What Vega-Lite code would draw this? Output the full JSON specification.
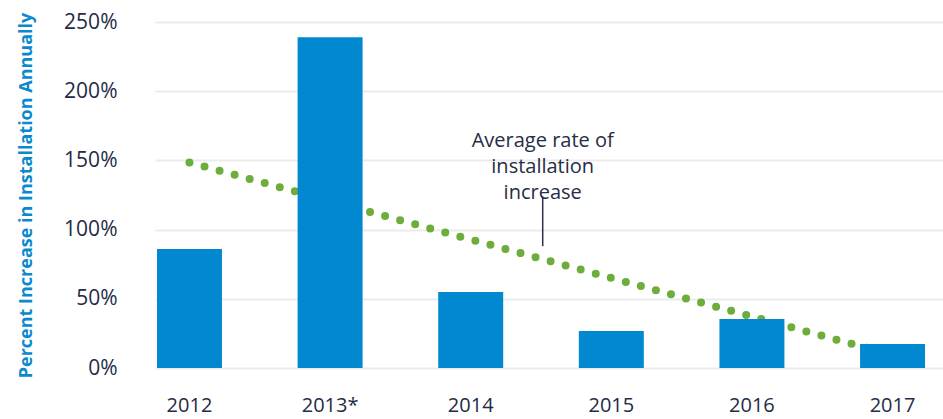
{
  "$schema": "https://vega.github.io/schema/vega-lite/v6.json",
  "width": 788,
  "height": 346,
  "autosize": "none",
  "padding": {"left": 155, "top": 22, "right": 0, "bottom": 51},
  "background": "white",
  "config": {"view": {"stroke": null}, "font": "Open Sans"},
  "datasets": {
    "bars": [
      {"year": "2012", "value": 0.86},
      {"year": "2013*", "value": 2.39},
      {"year": "2014", "value": 0.55},
      {"year": "2015", "value": 0.267},
      {"year": "2016", "value": 0.354},
      {"year": "2017", "value": 0.173}
    ],
    "trend": [
      {"year": "2012", "value": 1.485},
      {"year": "2017", "value": 0.094}
    ],
    "note": [
      {"year": "2014", "ty": 1.64, "y1": 1.24, "y2": 0.88, "label": ["Average rate of", "installation", "increase"]}
    ]
  },
  "layer": [
    {
      "data": {"name": "trend"},
      "mark": {"type": "line", "color": "#6dad3c", "strokeWidth": 8, "strokeDash": [0, 15.6], "strokeCap": "round"},
      "encoding": {
        "x": {
          "field": "year", "type": "nominal",
          "scale": {"type": "band", "domain": ["2012", "2013*", "2014", "2015", "2016", "2017"], "paddingInner": 0.538, "paddingOuter": 0.071, "align": 0.1},
          "axis": {"title": null, "domain": false, "ticks": false, "labelAngle": 0, "labelFontSize": 20, "labelColor": "#232b45", "labelPadding": 27, "grid": false}
        },
        "y": {
          "field": "value", "type": "quantitative",
          "scale": {"domain": [0, 2.5], "nice": false},
          "axis": {
            "values": [0, 0.5, 1, 1.5, 2, 2.5], "format": ".0%",
            "grid": true, "gridColor": "#ebebeb", "gridWidth": 2,
            "domain": false, "ticks": false,
            "labelPadding": 38, "labelFontSize": 21, "labelColor": "#232b45",
            "title": "Percent Increase in Installation Annually",
            "titleColor": "#0a89cf", "titleFontSize": 18, "titleFontWeight": "bold", "titlePadding": 28
          }
        }
      }
    },
    {
      "data": {"name": "bars"},
      "mark": {"type": "bar", "color": "#0288d1"},
      "encoding": {
        "x": {"field": "year", "type": "nominal"},
        "y": {"field": "value", "type": "quantitative"}
      }
    },
    {
      "data": {"name": "note"},
      "mark": {"type": "rule", "color": "#2b3247", "strokeWidth": 1.5, "xOffset": 72},
      "encoding": {
        "x": {"field": "year", "type": "nominal"},
        "y": {"field": "y1", "type": "quantitative"},
        "y2": {"field": "y2"}
      }
    },
    {
      "data": {"name": "note"},
      "mark": {"type": "text", "color": "#262d45", "fontSize": 20, "align": "center", "baseline": "middle", "lineHeight": 26, "xOffset": 72},
      "encoding": {
        "x": {"field": "year", "type": "nominal"},
        "y": {"field": "ty", "type": "quantitative"},
        "text": {"field": "label"}
      }
    }
  ]
}
